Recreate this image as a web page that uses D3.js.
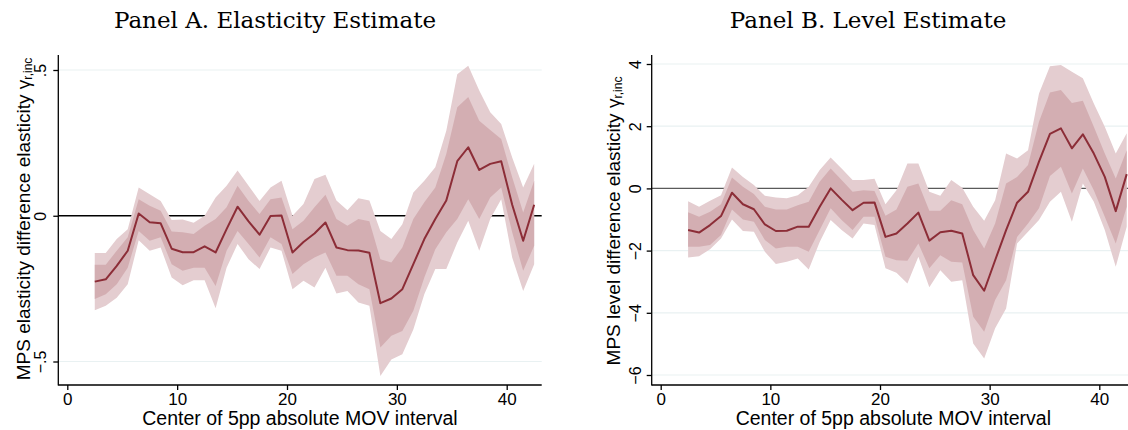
<!DOCTYPE html>
<html>
<head>
<meta charset="utf-8">
<script src="https://cdn.jsdelivr.net/npm/d3@7"></script>
<style>
  body { margin: 0; background: #fff; }
  svg { display: block; }
  .tick text { font-family: "Liberation Sans", Arial, sans-serif; }
</style>
</head>
<body>
<div id="mainDiv"></div>
<script>
'use strict';

// centers of the 5pp MOV intervals
var xCenters = [2.5, 3.5, 4.5, 5.5, 6.5, 7.5, 8.5, 9.5, 10.5, 11.5, 12.5, 13.5, 14.5, 15.5, 16.5, 17.5,
  18.5, 19.5, 20.5, 21.5, 22.5, 23.5, 24.5, 25.5, 26.5, 27.5, 28.5, 29.5, 30.5, 31.5, 32.5, 33.5,
  34.5, 35.5, 36.5, 37.5, 38.5, 39.5, 40.5, 41.5, 42.5];

// Panel A - elasticity
var estA = [-0.226, -0.218, -0.172, -0.120, 0.008, -0.022, -0.026, -0.113, -0.125, -0.125, -0.105, -0.126,
  -0.046, 0.031, -0.019, -0.065, -0.001, 0.001, -0.126, -0.090, -0.061, -0.023, -0.109, -0.118, -0.119,
  -0.127, -0.300, -0.284, -0.252, -0.166, -0.080, -0.011, 0.052, 0.187, 0.235, 0.157, 0.178, 0.187,
  0.038, -0.086, 0.038];
var hiA = [-0.168, -0.168, -0.120, -0.074, 0.057, 0.034, 0.017, -0.054, -0.057, -0.063, -0.034, -0.011,
  0.029, 0.103, 0.051, 0.006, 0.057, 0.063, -0.046, -0.017, 0.029, 0.072, -0.011, -0.034, -0.011,
  -0.019, -0.149, -0.160, -0.109, -0.011, 0.046, 0.097, 0.212, 0.372, 0.407, 0.326, 0.294, 0.263,
  0.132, 0.011, 0.120];
var loA = [-0.286, -0.269, -0.235, -0.178, -0.052, -0.086, -0.074, -0.166, -0.189, -0.178, -0.178, -0.241,
  -0.120, -0.052, -0.097, -0.143, -0.074, -0.097, -0.200, -0.166, -0.143, -0.126, -0.206, -0.206, -0.235,
  -0.252, -0.452, -0.412, -0.395, -0.326, -0.212, -0.115, -0.057, -0.011, 0.057, -0.011, 0.063, 0.097,
  -0.057, -0.189, -0.103];
var hi2A = [-0.128, -0.128, -0.080, -0.046, 0.097, 0.074, 0.051, -0.015, -0.013, -0.024, 0.000, 0.063,
  0.103, 0.155, 0.103, 0.051, 0.097, 0.120, 0.000, 0.040, 0.126, 0.141, 0.052, 0.019, 0.060, 0.052,
  -0.052, -0.080, -0.029, 0.080, 0.120, 0.166, 0.292, 0.485, 0.515, 0.430, 0.355, 0.315, 0.200, 0.097,
  0.178];
var lo2A = [-0.324, -0.309, -0.281, -0.235, -0.084, -0.120, -0.109, -0.212, -0.238, -0.221, -0.221, -0.317,
  -0.178, -0.097, -0.149, -0.183, -0.109, -0.120, -0.252, -0.223, -0.246, -0.178, -0.267, -0.258, -0.298,
  -0.309, -0.550, -0.493, -0.475, -0.390, -0.269, -0.183, -0.183, -0.092, -0.017, -0.120, -0.011, 0.057,
  -0.143, -0.258, -0.166];

// Panel B - level
var estB = [-1.34, -1.42, -1.18, -0.89, -0.14, -0.51, -0.67, -1.16, -1.37, -1.36, -1.23, -1.23, -0.59, 0.00,
  -0.36, -0.70, -0.46, -0.45, -1.56, -1.45, -1.13, -0.78, -1.68, -1.41, -1.36, -1.45, -2.79, -3.29, -2.31,
  -1.34, -0.46, -0.11, 0.86, 1.75, 1.93, 1.29, 1.74, 1.12, 0.37, -0.73, 0.46];
var hiB = [-0.77, -0.91, -0.75, -0.51, 0.35, 0.05, -0.18, -0.59, -0.68, -0.68, -0.54, -0.43, 0.21, 0.64,
  0.27, -0.11, -0.06, -0.08, -0.88, -0.68, 0.05, 0.16, -0.72, -0.72, -0.38, -0.51, -1.34, -1.93, -1.13,
  0.16, 0.37, 0.75, 2.14, 3.08, 3.16, 2.75, 2.82, 1.98, 1.12, 0.32, 1.23];
var loB = [-1.88, -1.88, -1.82, -1.50, -0.68, -1.00, -1.07, -1.66, -1.93, -1.88, -1.88, -2.04, -1.34, -0.64,
  -1.02, -1.34, -0.91, -0.91, -2.20, -2.31, -2.33, -1.77, -2.57, -2.15, -2.36, -2.38, -4.13, -4.61, -3.59,
  -2.95, -1.56, -1.13, -0.64, 0.40, 0.70, -0.16, 0.64, -0.06, -0.91, -1.77, -0.59];
var hi2B = [-0.41, -0.59, -0.40, -0.22, 0.67, 0.37, 0.11, -0.24, -0.29, -0.32, -0.22, 0.05, 0.59, 0.99,
  0.64, 0.27, 0.27, 0.31, -0.51, -0.06, 0.80, 0.80, -0.11, -0.24, 0.27, 0.02, -0.59, -1.04, -0.38,
  1.12, 0.96, 1.23, 3.05, 3.93, 3.97, 3.75, 3.54, 2.73, 1.98, 1.12, 1.77];
var lo2B = [-2.22, -2.18, -1.96, -1.61, -1.00, -1.37, -1.39, -2.04, -2.43, -2.36, -2.25, -2.61, -1.72, -1.02,
  -1.34, -1.61, -1.13, -1.18, -2.57, -2.71, -3.06, -2.20, -3.18, -2.63, -3.00, -2.95, -4.99, -5.47, -4.50,
  -3.86, -1.77, -1.39, -1.02, -0.43, -0.11, -1.07, 0.16, -0.43, -1.34, -2.52, -1.23];

// tick labels
var xTicks = [0, 10, 20, 30, 40];
var yTicksA = [-0.5, 0, 0.5];
var yTickLabelsA = ['\u2212.5', '0', '.5'];
var yTicksB = [-6, -4, -2, 0, 2, 4];
var yTickLabelsB = ['\u22126', '\u22124', '\u22122', '0', '2', '4'];

var titles = ['Panel A. Elasticity Estimate', 'Panel B. Level Estimate'];
var yTitles = ['MPS elasticity difference elasticity ', 'MPS level difference elasticity '];
var xTitle = 'Center of 5pp absolute MOV interval';

var chart = {};
chart.w = 1128;
chart.h = 430;
chart.colors = {line: '#8c2d37', inner: '#d3aeb2', outer: '#e4cdd0', grid: '#e9f1f2'};
chart.font = '"Liberation Sans", Arial, Helvetica, sans-serif';
chart.serif = '"DejaVu Serif", "Liberation Serif", serif';

// panel layouts (pixel geometry of each plot region)
chart.panels = [
  {left: 58.3, right: 541.7, top: 55, bottom: 385, x0: 67.3, x40: 506.7,
   yDom: [-0.5, 0.5], yRange: [361.5, 70], titleX: 275, yTitleX: 30, yTitleY: 219, tickLabX: 45.5,
   zeroColor: '#000', grid: [-0.5, 0.5],
   est: estA, hi: hiA, lo: loA, hi2: hi2A, lo2: lo2A,
   yTicks: yTicksA, yLabels: yTickLabelsA},
  {left: 651.7, right: 1135, top: 55, bottom: 385, x0: 660.7, x40: 1099.3,
   yDom: [-6, 4], yRange: [375, 64], titleX: 868, yTitleX: 620, yTitleY: 221, tickLabX: 640.5,
   zeroColor: '#5a5a5a', grid: [-6, -4, -2, 2, 4],
   est: estB, hi: hiB, lo: loB, hi2: hi2B, lo2: lo2B,
   yTicks: yTicksB, yLabels: yTickLabelsB}
];

chart.appendSvg = function(div)
{
  return d3.select(div).append('svg')
    .attr('width', chart.w)
    .attr('height', chart.h);
}

chart.drawPanel = function(svg, p, i)
{
  var xScale = d3.scaleLinear().domain([0, 40]).range([p.x0, p.x40]);
  var yScale = d3.scaleLinear().domain(p.yDom).range(p.yRange);
  var g = svg.append('g').attr('class', 'panel' + i);

  // gridlines
  g.selectAll('.grid')
    .data(p.grid)
    .enter()
    .append('line')
    .attr('x1', p.left).attr('x2', p.right)
    .attr('y1', function(d){ return yScale(d); })
    .attr('y2', function(d){ return yScale(d); })
    .style('stroke', chart.colors.grid)
    .style('stroke-width', 1.2);

  // zero line (under the bands)
  g.append('line')
    .attr('x1', p.left).attr('x2', p.right)
    .attr('y1', yScale(0)).attr('y2', yScale(0))
    .style('stroke', p.zeroColor)
    .style('stroke-width', 1.3);

  var rows = xCenters.map(function(x, k){
    return {x: x, est: p.est[k], hi: p.hi[k], lo: p.lo[k], hi2: p.hi2[k], lo2: p.lo2[k]};
  });

  var outer = d3.area()
    .x(function(d){ return xScale(d.x); })
    .y0(function(d){ return yScale(d.lo2); })
    .y1(function(d){ return yScale(d.hi2); });
  var inner = d3.area()
    .x(function(d){ return xScale(d.x); })
    .y0(function(d){ return yScale(d.lo); })
    .y1(function(d){ return yScale(d.hi); });
  var line = d3.line()
    .x(function(d){ return xScale(d.x); })
    .y(function(d){ return yScale(d.est); });

  g.append('path').datum(rows).attr('d', outer).style('fill', chart.colors.outer);
  g.append('path').datum(rows).attr('d', inner).style('fill', chart.colors.inner);
  g.append('path').datum(rows).attr('d', line)
    .style('fill', 'none')
    .style('stroke', chart.colors.line)
    .style('stroke-width', 2)
    .style('stroke-linejoin', 'round');

  // x axis
  var xAxisGroup = g.append('g')
    .attr('transform', 'translate(0,' + p.bottom + ')')
    .call(d3.axisBottom(xScale).tickValues(xTicks).tickSize(5).tickSizeOuter(0));
  xAxisGroup.select('.domain').remove();
  xAxisGroup.append('line')
    .attr('x1', p.left).attr('x2', p.right)
    .style('stroke', '#000').style('stroke-width', 1.3);
  xAxisGroup.selectAll('.tick line').style('stroke-width', 1.3);
  xAxisGroup.selectAll('.tick text')
    .attr('y', 8)
    .style('font-size', '17px')
    .style('fill', '#000');

  // y axis
  var yAxisGroup = g.append('g')
    .attr('transform', 'translate(' + p.left + ',0)')
    .call(d3.axisLeft(yScale).tickValues(p.yTicks).tickSize(5).tickSizeOuter(0)
      .tickFormat(function(d, k){ return p.yLabels[k]; }));
  yAxisGroup.select('.domain').remove();
  yAxisGroup.append('line')
    .attr('y1', p.top).attr('y2', p.bottom + 0.6)
    .style('stroke', '#000').style('stroke-width', 1.3);
  yAxisGroup.selectAll('.tick line').style('stroke-width', 1.3);
  yAxisGroup.selectAll('.tick text')
    .attr('x', null).attr('dy', null)
    .attr('transform', 'translate(' + (p.tickLabX - p.left) + ',0) rotate(-90)')
    .attr('text-anchor', 'middle')
    .style('font-size', '16px')
    .style('fill', '#000');

  // x title, centred on the plot region
  g.append('text')
    .attr('x', (p.left + p.right) / 2)
    .attr('y', 425)
    .attr('text-anchor', 'middle')
    .style('font-family', chart.font)
    .style('font-size', '19.5px')
    .text(xTitle);

  // y title with gamma subscript
  var yt = g.append('text')
    .attr('transform', 'translate(' + p.yTitleX + ',' + p.yTitleY + ') rotate(-90)')
    .attr('text-anchor', 'middle')
    .style('font-family', chart.font)
    .style('font-size', '19px');
  yt.append('tspan').text(yTitles[i] + '\u03b3');
  yt.append('tspan').attr('dy', 1.5).style('font-size', '12px').text('r,inc');

  // panel title
  g.append('text')
    .attr('x', p.titleX)
    .attr('y', 28)
    .attr('text-anchor', 'middle')
    .style('font-family', chart.serif)
    .style('font-size', '23px')
    .text(titles[i]);
}

chart.run = function()
{
  var svg = chart.appendSvg('#mainDiv');
  chart.panels.forEach(function(p, i){ chart.drawPanel(svg, p, i); });
}

window.onload = chart.run;
</script>
</body>
</html>
